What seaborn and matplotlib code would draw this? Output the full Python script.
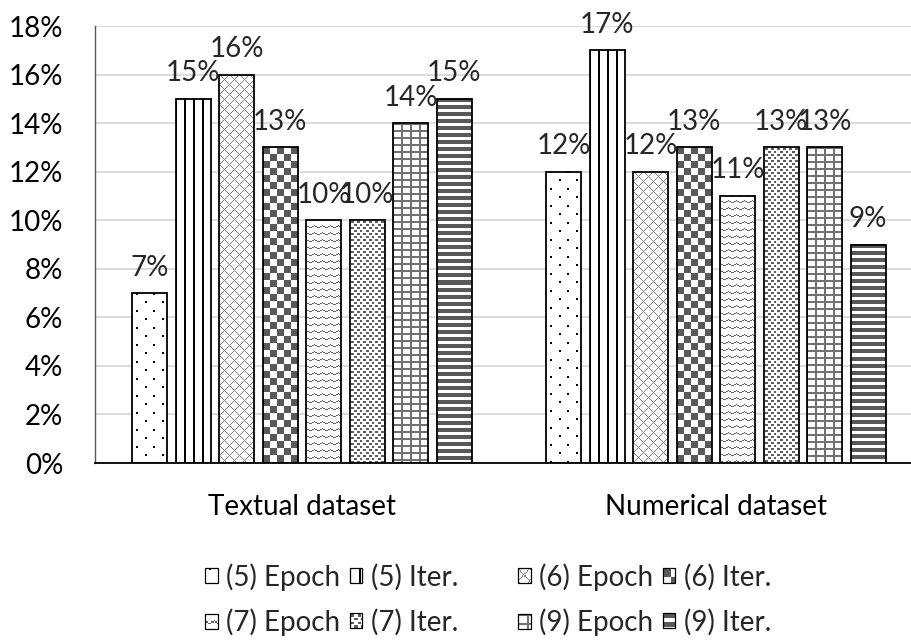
import numpy as np
import pandas as pd
import matplotlib
matplotlib.use("Agg")
import matplotlib.pyplot as plt
import seaborn as sns
from matplotlib.patches import Patch, Rectangle
from matplotlib.legend_handler import HandlerBase
from matplotlib.image import BboxImage
from matplotlib.transforms import Bbox, TransformedBbox
from matplotlib.ticker import FuncFormatter

# ---- data -------------------------------------------------------------
categories = ["Textual dataset", "Numerical dataset"]
series = ["(5) Epoch", "(5) Iter.", "(6) Epoch", "(6) Iter.",
          "(7) Epoch", "(7) Iter.", "(9) Epoch", "(9) Iter."]
textual = [7, 15, 16, 13, 10, 10, 14, 15]
numerical = [12, 17, 12, 13, 11, 13, 13, 9]
y_ticks = [0, 2, 4, 6, 8, 10, 12, 14, 16, 18]

# fill pattern for each series
patterns = ["dots", "vlines", "diamond", "checker",
            "zigzag", "confetti", "grid", "stripes"]

df = pd.DataFrame({
    "dataset": np.repeat(categories, len(series)),
    "run": series * len(categories),
    "value": textual + numerical,
})


def texture(kind, h, w):
    """Pixel texture (RGB array) for a given fill pattern."""
    yy, xx = np.mgrid[0:h, 0:w]
    if kind == "dots":
        ink = ((yy % 17 < 2) & ((xx + 13) % 17 < 2)) | \
              (((yy + 9) % 17 < 2) & ((xx + 4) % 17 < 2))
        col = (0.0, 0.0, 0.0)
    elif kind == "vlines":
        ink = (xx + 1) % 9 < 2
        col = (0.0, 0.0, 0.0)
    elif kind == "diamond":
        ink = ((xx + yy) % 10 == 0) | ((xx - yy) % 10 == 0)
        col = (0.50, 0.50, 0.50)
    elif kind == "checker":
        ink = ((xx // 7) + (yy // 7)) % 2 == 0
        col = (0.35, 0.35, 0.35)
    elif kind == "zigzag":
        off = np.abs((xx % 8) - 4) // 2
        ink = (yy + off) % 7 == 0
        col = (0.40, 0.40, 0.40)
    elif kind == "confetti":
        tile = np.zeros((12, 12), bool)
        for (r, c) in [(1, 1), (1, 7), (4, 4), (4, 10), (7, 1), (7, 7), (10, 4), (10, 10)]:
            tile[r:r + 2, c:c + 3] = True
        ink = tile[yy % 12, xx % 12]
        col = (0.37, 0.37, 0.37)
    elif kind == "grid":
        ink = ((xx + 1) % 9 < 2) | (yy % 7 < 2)
        col = (0.45, 0.45, 0.45)
    else:  # stripes
        ink = yy % 7 < 4
        col = (0.35, 0.35, 0.35)
    img = np.ones((h, w, 3))
    img[ink] = col
    return img


class TextureHandler(HandlerBase):
    """Legend key drawn as a small textured square."""

    def __init__(self, kinds):
        super().__init__()
        self.kinds = kinds

    def create_artists(self, legend, orig_handle, xdescent, ydescent,
                       width, height, fontsize, trans):
        kind = self.kinds[orig_handle.get_label()]
        bb = TransformedBbox(Bbox.from_bounds(-xdescent, -ydescent, width, height), trans)
        img = BboxImage(bb, interpolation="nearest")
        img.set_data(texture(kind, 12, 12))
        frame = Rectangle((-xdescent, -ydescent), width, height,
                          facecolor="none", edgecolor="black", lw=0.9,
                          transform=trans)
        return [img, frame]


sns.set_theme(style="white")
plt.rcParams["font.family"] = ["Lato", "DejaVu Sans"]
FS = 20

W, H = 911, 642
fig = plt.figure(figsize=(W / 100, H / 100), dpi=100)
ax = fig.add_axes([95 / W, (H - 463) / H, 828 / W, 437 / H])

sns.barplot(data=df, x="dataset", y="value", hue="run", order=categories,
            hue_order=series, width=0.84, gap=0.2, ax=ax, legend=False,
            facecolor="none", edgecolor="black", linewidth=1.3, zorder=3)

ax.set_xlim(-0.5, 1.5)
ax.set_ylim(0, 18)
ax.set_yticks(y_ticks)
ax.yaxis.set_major_formatter(FuncFormatter(lambda v, _: f"{v:.0f}%"))
ax.set_xlabel("")
ax.set_ylabel("")
ax.set_axisbelow(True)
ax.yaxis.grid(True, color="#d9d9d9", lw=1.3)
ax.xaxis.grid(False)
for side in ("top", "right"):
    ax.spines[side].set_visible(False)
ax.spines["left"].set_color("#595959")
ax.spines["left"].set_linewidth(1.0)
ax.spines["bottom"].set_color("black")
ax.spines["bottom"].set_linewidth(1.3)
ax.tick_params(axis="both", length=0, labelsize=FS, colors="black")
ax.tick_params(axis="y", pad=23)
ax.tick_params(axis="x", pad=22)

# textured fills inside each bar
fig.canvas.draw()
for kind, cont in zip(patterns, ax.containers):
    for bar in cont:
        ext = bar.get_window_extent()
        wpx = max(int(round(ext.width)), 1)
        hpx = max(int(round(ext.height)), 1)
        x0, y0 = bar.get_x(), bar.get_y()
        ax.imshow(texture(kind, hpx, wpx),
                  extent=(x0, x0 + bar.get_width(), y0, y0 + bar.get_height()),
                  aspect="auto", interpolation="nearest", zorder=2.5)
    ax.bar_label(cont, labels=[f"{v:.0f}%" for v in cont.datavalues],
                 padding=9, fontsize=FS)
ax.set_xlim(-0.5, 1.5)
ax.set_ylim(0, 18)

# legend in two blocks of two columns (columns fill top to bottom)
kinds = dict(zip(series, patterns))
handler = TextureHandler(kinds)
handles = {s: Patch(label=s) for s in series}
leg_kw = dict(ncol=2, frameon=False, fontsize=FS, borderpad=0, borderaxespad=0,
              handlelength=0.45, handleheight=0.45, handletextpad=0.3,
              columnspacing=0.35, labelspacing=0.65,
              handler_map={Patch: handler})
left = [handles[s] for s in ("(5) Epoch", "(7) Epoch", "(5) Iter.", "(7) Iter.")]
right = [handles[s] for s in ("(6) Epoch", "(9) Epoch", "(6) Iter.", "(9) Iter.")]
fig.legend(handles=left, labels=[h.get_label() for h in left], loc="upper right",
           bbox_to_anchor=(458 / W, 1 - 563 / H), **leg_kw)
fig.legend(handles=right, labels=[h.get_label() for h in right], loc="upper left",
           bbox_to_anchor=(518 / W, 1 - 563 / H), **leg_kw)

fig.savefig("out.png", dpi=100)
